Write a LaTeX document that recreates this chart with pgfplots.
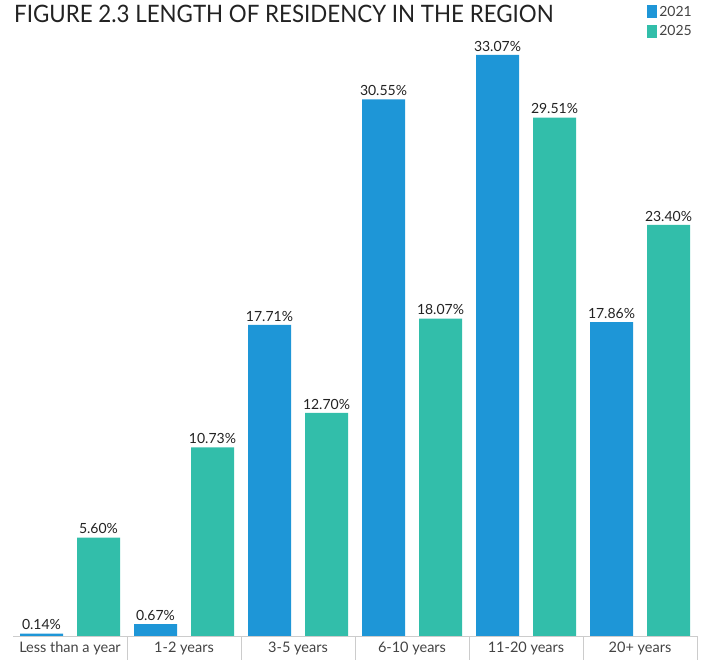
\documentclass[border=0pt]{standalone}
\usepackage{fontspec}
\setmainfont{Lato}
\usepackage{pgfplots}
\pgfplotsset{compat=1.18}
\definecolor{cA}{HTML}{1E96D7}
\definecolor{cB}{HTML}{32BEAA}
\definecolor{txt}{HTML}{222222}
\begin{document}
\begin{tikzpicture}[x=1pt,y=1pt]
\useasboundingbox (-13,-25) rectangle (700,636);
\begin{axis}[
  at={(0,0)}, anchor=south west,
  scale only axis, width=684pt, height=636pt,
  xmin=-0.5, xmax=5.5, ymin=0, ymax=36.2,
  enlarge x limits=false,
  axis x line=bottom, axis y line=none,
  x axis line style={-, draw=black!20},
  ytick=\empty,
  xtick={0,1,2,3,4,5},
  xticklabels={Less than a year,1-2 years,3-5 years,6-10 years,11-20 years,20+ years},
  xticklabel style={font=\fontsize{14.5}{16}\selectfont, text=txt!85, yshift=-2pt},
  major tick length=0pt,
  minor xtick={0.5,1.5,2.5,3.5,4.5,5.5},
  minor tick length=24pt,
  xtick align=outside,
  minor x tick style={draw=black!20},
  ybar, bar width=43pt,
  /pgf/number format/assume math mode=true,
  nodes near coords={\pgfmathprintnumber[fixed,fixed zerofill,precision=2,assume math mode=true]{\pgfplotspointmeta}\%},
  every node near coord/.append style={font=\fontsize{14}{16}\selectfont, text=txt},
  clip=false,
  legend style={at={(axis description cs:0.927,0.994)}, anchor=north west, draw=none, fill=none,
    font=\fontsize{14}{16}\selectfont, text=txt!85, inner sep=0pt, row sep=4pt,
    /tikz/every even column/.append style={column sep=0pt}},
  legend cell align=left,
]
\addplot[fill=cA, draw=none, bar shift=-28.5pt,
  legend image code/.code={\fill[cA] (0pt,-6.5pt) rectangle (10pt,6.5pt);}]
  coordinates {(0,0.14) (1,0.67) (2,17.71) (3,30.55) (4,33.07) (5,17.86)};
\addplot[fill=cB, draw=none, bar shift=28.5pt,
  legend image code/.code={\fill[cB] (0pt,-6.5pt) rectangle (10pt,6.5pt);}]
  coordinates {(0,5.60) (1,10.73) (2,12.70) (3,18.07) (4,29.51) (5,23.40)};
\legend{2021,2025}
\end{axis}
\node[anchor=base west, inner sep=0pt, text=txt, font=\fontsize{24}{28}\selectfont\addfontfeatures{FakeStretch=0.93}] at (1,613) {FIGURE 2.3 LENGTH OF RESIDENCY IN THE REGION};
\end{tikzpicture}
\end{document}
